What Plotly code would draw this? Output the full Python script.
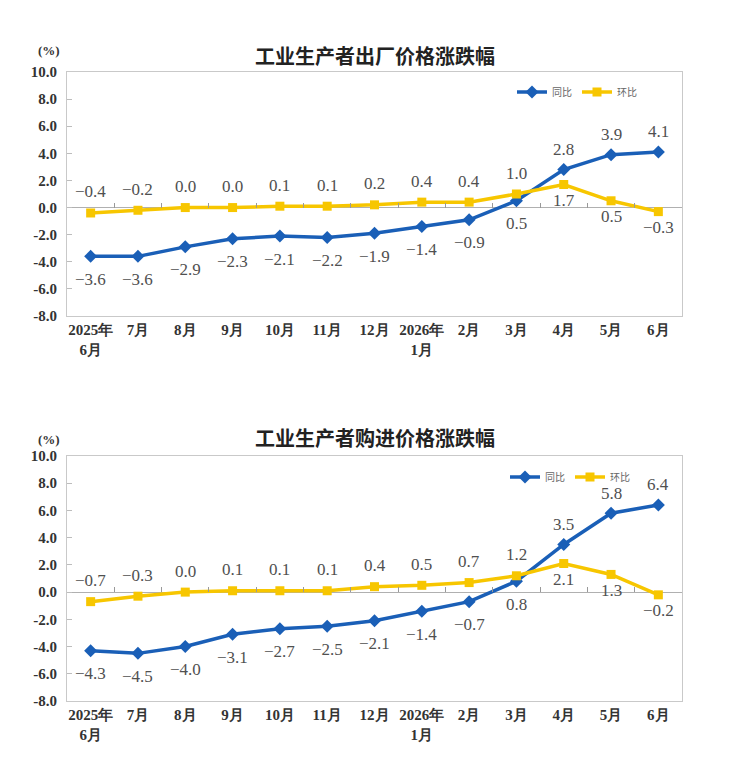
import plotly.graph_objects as go

categories = ["2025年<br>6月", "7月", "8月", "9月", "10月", "11月", "12月",
              "2026年<br>1月", "2月", "3月", "4月", "5月", "6月"]

# 工业生产者出厂价格
ppi_yoy = [-3.6, -3.6, -2.9, -2.3, -2.1, -2.2, -1.9, -1.4, -0.9, 0.5, 2.8, 3.9, 4.1]
ppi_mom = [-0.4, -0.2, 0.0, 0.0, 0.1, 0.1, 0.2, 0.4, 0.4, 1.0, 1.7, 0.5, -0.3]

# 工业生产者购进价格
ipi_yoy = [-4.3, -4.5, -4.0, -3.1, -2.7, -2.5, -2.1, -1.4, -0.7, 0.8, 3.5, 5.8, 6.4]
ipi_mom = [-0.7, -0.3, 0.0, 0.1, 0.1, 0.1, 0.4, 0.5, 0.7, 1.2, 2.1, 1.3, -0.2]

titles = ["工业生产者出厂价格涨跌幅", "工业生产者购进价格涨跌幅"]
y_ticks = [-8, -6, -4, -2, 0, 2, 4, 6, 8, 10]

BLUE = "#1a5fb7"
YELLOW = "#f7c600"
W, H = 729, 780


def fy(px):
    # page pixel row -> paper fraction (page shows paper between rows 8 and 772)
    return 1 - (px - 8) / 764


def fmt(v):
    return f"{v:.1f}".replace("-", "−")


yoy_above = [False] * 10 + [True] * 3
mom_above = [True] * 10 + [False] * 3

xdom = [67 / W, 682 / W]
ydoms = [[fy(316), fy(72)], [fy(701), fy(456)]]

fig = go.Figure()
label_font = dict(family="Liberation Serif", size=17, color="#505050")

annotations = []
datasets = [(ppi_yoy, ppi_mom), (ipi_yoy, ipi_mom)]
for i, (yoy, mom) in enumerate(datasets):
    xa = "x" if i == 0 else "x2"
    ya = "y" if i == 0 else "y2"
    lg = "legend" if i == 0 else "legend2"
    fig.add_trace(go.Scatter(
        x=categories, y=yoy, name="同比", mode="lines+markers",
        line=dict(color=BLUE, width=3.5), marker=dict(symbol="diamond", size=10, color=BLUE),
        xaxis=xa, yaxis=ya, legend=lg, cliponaxis=False))
    fig.add_trace(go.Scatter(
        x=categories, y=mom, name="环比", mode="lines+markers",
        line=dict(color=YELLOW, width=3.5), marker=dict(symbol="square", size=9, color=YELLOW),
        xaxis=xa, yaxis=ya, legend=lg, cliponaxis=False))
    fig.add_trace(go.Scatter(x=[None], y=[None], xaxis="x3" if i == 0 else "x4",
                             yaxis=ya, showlegend=False, hoverinfo="skip"))
    for c, v, up in zip(categories, yoy, yoy_above):
        annotations.append(dict(x=c, y=v, xref=xa, yref=ya, text=fmt(v), showarrow=False,
                                yshift=20 if up else -23, font=label_font))
    for c, v, up in zip(categories, mom, mom_above):
        annotations.append(dict(x=c, y=v, xref=xa, yref=ya, text=fmt(v), showarrow=False,
                                yshift=21 if up else -16, font=label_font))

n = len(categories)
tick_font = dict(family="Liberation Serif", size=15, color="#333333", weight="bold")
axis_common = dict(showline=True, linecolor="#c9c9c9", linewidth=1, mirror=True,
                   showgrid=False, zeroline=False)

layout = dict(
    width=W, height=H, margin=dict(l=0, r=0, t=0, b=0),
    paper_bgcolor="white", plot_bgcolor="white", showlegend=True,
)
for i in range(2):
    sx = "" if i == 0 else "2"
    layout["xaxis" + sx] = dict(domain=xdom, anchor="y" + sx, type="category",
                                range=[-0.5, n - 0.5], ticks="", tickfont=tick_font,
                                fixedrange=True, **axis_common)
    layout["yaxis" + sx] = dict(domain=ydoms[i], anchor="x" + sx, range=[-8, 10],
                                tickvals=y_ticks, ticktext=[f"{v:.1f}" for v in y_ticks],
                                ticks="inside", ticklen=5, tickcolor="#bdbdbd",
                                ticklabelstandoff=6,
                                tickfont=tick_font, zeroline=True, zerolinecolor="#b0b0b0",
                                zerolinewidth=1, showline=True, linecolor="#c9c9c9",
                                linewidth=1, mirror=False, showgrid=False, fixedrange=True)
    d0, d1 = ydoms[i]
    zero_pos = d0 + (0 - (-8)) / 18 * (d1 - d0)
    layout["xaxis" + ("3" if i == 0 else "4")] = dict(
        overlaying="x" + sx, anchor="free", position=zero_pos, side="top",
        range=[-0.5, n - 0.5], tickvals=[k + 0.5 for k in range(n - 1)],
        ticks="outside", ticklen=5, tickcolor="#999999", tickwidth=1,
        showticklabels=False, showline=False, showgrid=False, zeroline=False,
        fixedrange=True)
    # right border of the plot frame
    layout["yaxis" + ("3" if i == 0 else "4")] = dict(
        overlaying="y" + sx, anchor="x" + sx, side="right", range=[-8, 10],
        showline=True, linecolor="#c9c9c9", linewidth=1, ticks="",
        showticklabels=False, showgrid=False, zeroline=False, fixedrange=True)

leg_common = dict(orientation="h", font=dict(family="Noto Sans CJK SC", size=10, color="#666666"),
                  bgcolor="rgba(0,0,0,0)", itemwidth=30, xanchor="left", yanchor="middle",
                  tracegroupgap=0)
layout["legend"] = dict(x=512 / W, y=fy(92), **leg_common)
layout["legend2"] = dict(x=505 / W, y=fy(477), **leg_common)

title_y = [55, 438]
pct_y = [50, 439]
for i in range(2):
    annotations.append(dict(
        text=titles[i], x=(xdom[0] + xdom[1]) / 2, y=fy(title_y[i]),
        xref="paper", yref="paper", showarrow=False, xanchor="center", yanchor="middle",
        font=dict(family="Noto Sans CJK SC", size=20, color="#222222", weight="bold")))
    annotations.append(dict(
        text="(%)", x=49 / W, y=fy(pct_y[i]), xref="paper", yref="paper",
        showarrow=False, xanchor="center", yanchor="middle",
        font=dict(family="Liberation Serif", size=13, color="#333333", weight="bold")))
layout["annotations"] = annotations

# dummy traces so the right-border axes are drawn
fig.add_trace(go.Scatter(x=[None], y=[None], xaxis="x", yaxis="y3",
                         showlegend=False, hoverinfo="skip"))
fig.add_trace(go.Scatter(x=[None], y=[None], xaxis="x2", yaxis="y4",
                         showlegend=False, hoverinfo="skip"))

fig.update_layout(**layout)
fig.write_html("out.html")
